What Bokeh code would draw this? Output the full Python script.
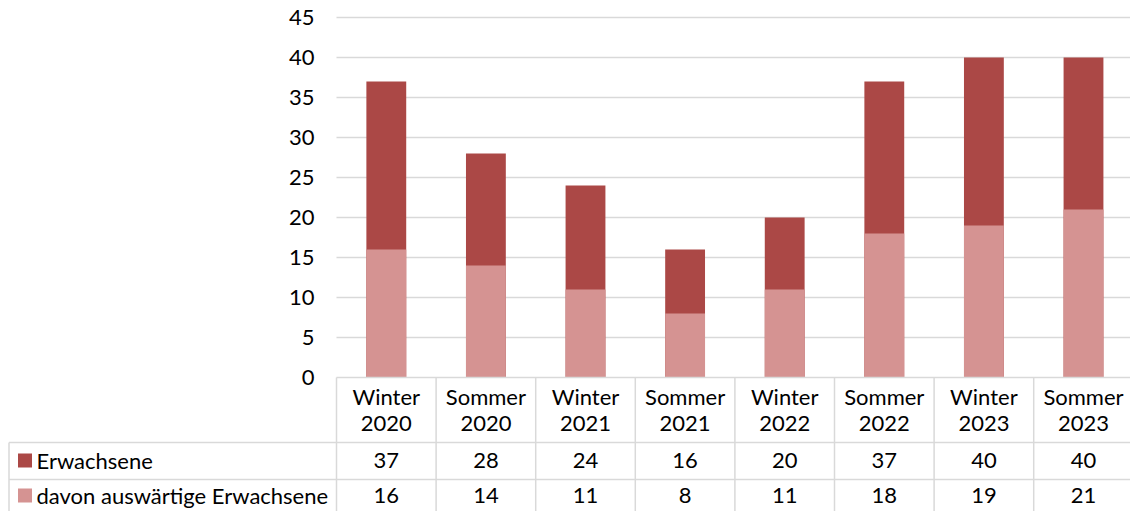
from bokeh.plotting import figure
from bokeh.models import Range1d
from bokeh.embed import file_html
from bokeh.resources import INLINE
from bokeh.core.properties import value

# ---- data ----
categories = ["Winter 2020", "Sommer 2020", "Winter 2021", "Sommer 2021",
              "Winter 2022", "Sommer 2022", "Winter 2023", "Sommer 2023"]
erwachsene = [37, 28, 24, 16, 20, 37, 40, 40]
auswaertige = [16, 14, 11, 8, 11, 18, 19, 21]
series_names = ["Erwachsene", "davon auswärtige Erwachsene"]
y_ticks = [0, 5, 10, 15, 20, 25, 30, 35, 40, 45]

# ---- style ----
DARK = "#AB4846"
LIGHT = "#D59392"
GRID = "#D9D9D9"
TXT = "#000000"
FONT = value("Lato")
FS = value("22px")

LEFT_PX = 336    # pixel x of the plot area's left edge
ZERO_PX = 377    # pixel y of value 0
PX_X = 99.6      # px per category
PX_Y = 8.0       # px per value unit
W, H = 1130, 511
X0 = -LEFT_PX / PX_X
X1 = X0 + W / PX_X
Y1 = ZERO_PX / PX_Y
Y0 = Y1 - H / PX_Y


def xp(px):
    return (px - LEFT_PX) / PX_X


def yp(py):
    return (ZERO_PX - py) / PX_Y


p = figure(width=W, height=H, x_range=Range1d(X0, X1), y_range=Range1d(Y0, Y1),
           output_backend="svg", toolbar_location=None, min_border=0,
           x_axis_type=None, y_axis_type=None)
p.outline_line_color = None
p.grid.visible = False

n = len(categories)
centers = [i + 0.5 for i in range(n)]

# gridlines
gt = [t for t in y_ticks if t > 0]
p.segment(x0=[0] * len(gt), y0=gt, x1=[X1] * len(gt), y1=gt, line_color=GRID, line_width=1.5)

# bars (overlapping)
p.vbar(x=centers, top=erwachsene, bottom=0, width=0.4, fill_color=DARK, line_color=None)
p.vbar(x=centers, top=auswaertige, bottom=0, width=0.4, fill_color=LIGHT, line_color=None)

# y tick labels
p.text(x=[xp(LEFT_PX - 22)] * len(y_ticks), y=y_ticks, text=[str(t) for t in y_ticks],
       text_align="right", text_baseline="middle", text_font=FONT, text_font_size=FS,
       text_color=TXT)

# table lines
r1, r2, rb = yp(442), yp(479), Y0
left = xp(8.5)
p.segment(x0=[0, left, left], y0=[0, r1, r2], x1=[X1, X1, X1], y1=[0, r1, r2],
          line_color=GRID, line_width=1.5)
p.segment(x0=list(range(n + 1)) + [left], y0=[0] * (n + 1) + [r1],
          x1=list(range(n + 1)) + [left], y1=[rb] * (n + 2), line_color=GRID, line_width=1.5)

# header texts
seasons = [c.split(" ")[0] for c in categories]
years = [c.split(" ")[1] for c in categories]
p.text(x=centers, y=[yp(396)] * n, text=seasons, text_align="center", text_baseline="middle",
       text_font=FONT, text_font_size=FS, text_color=TXT)
p.text(x=centers, y=[yp(423)] * n, text=years, text_align="center", text_baseline="middle",
       text_font=FONT, text_font_size=FS, text_color=TXT)

# rows
row_y = [yp(460), yp(495)]
for vals, name, col, ry in zip([erwachsene, auswaertige], series_names, [DARK, LIGHT], row_y):
    p.scatter(x=[xp(24.5)], y=[ry], marker="square", size=14, fill_color=col, line_color=None)
    p.text(x=[xp(36)], y=[ry], text=[name], text_align="left", text_baseline="middle",
           text_font=FONT, text_font_size=FS, text_color=TXT)
    p.text(x=centers, y=[ry] * n, text=[str(v) for v in vals], text_align="center",
           text_baseline="middle", text_font=FONT, text_font_size=FS, text_color=TXT)

open("out.html", "w").write(file_html(p, INLINE))
